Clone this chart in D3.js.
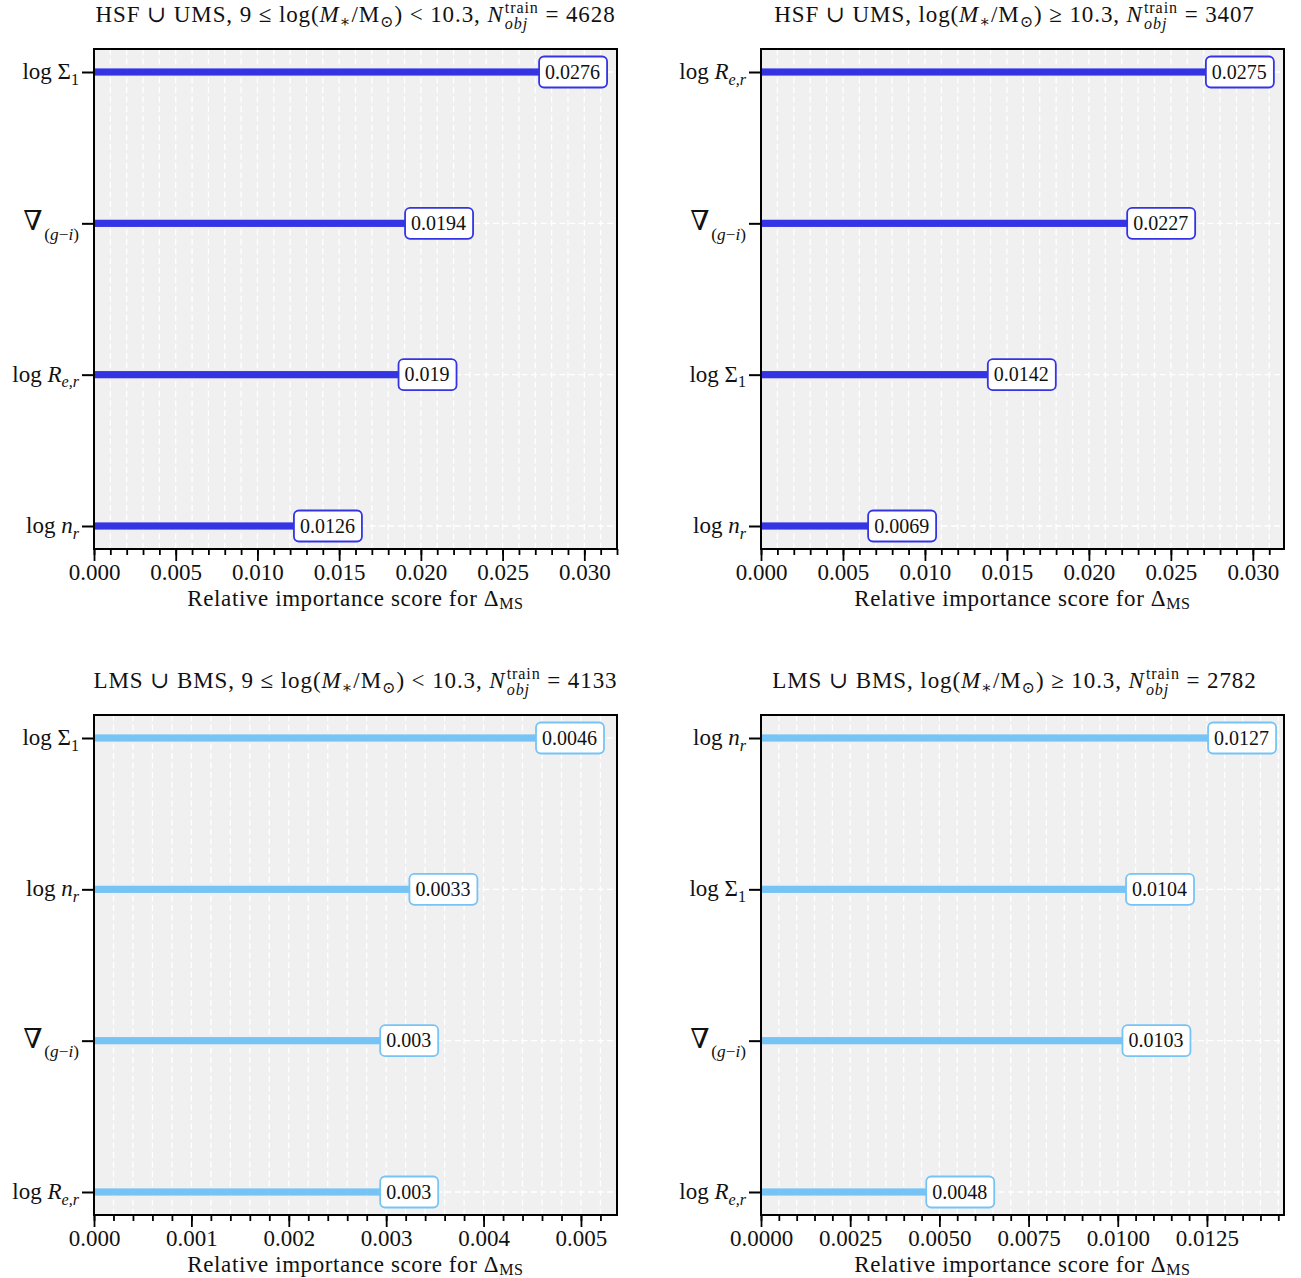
<!DOCTYPE html>
<html>
<head>
<meta charset="utf-8">
<script src="https://cdn.jsdelivr.net/npm/d3@7"></script>
<style>
  html, body { margin: 0; padding: 0; background: #ffffff; }
  svg text { font-family: "Liberation Serif", "DejaVu Serif", serif; fill: #111; white-space: pre; }
</style>
</head>
<body>
<svg id="chart" width="1301" height="1278"></svg>
<script>
// Feature importance scores for the four galaxy sub-samples
const hsfLowFeatures = ["logSigma1", "gradGI", "logRe", "logN"];
const hsfLowScores = [0.0276, 0.0194, 0.019, 0.0126];

const hsfHighFeatures = ["logRe", "gradGI", "logSigma1", "logN"];
const hsfHighScores = [0.0275, 0.0227, 0.0142, 0.0069];

const lmsLowFeatures = ["logSigma1", "logN", "gradGI", "logRe"];
const lmsLowScores = [0.0046, 0.0033, 0.003, 0.003];

const lmsHighFeatures = ["logN", "logSigma1", "gradGI", "logRe"];
const lmsHighScores = [0.0127, 0.0104, 0.0103, 0.0048];

// Training-set sizes quoted in the panel titles
const trainCounts = [4628, 3407, 4133, 2782];

// Axis tick labels
const ticksHsf = [0, 0.005, 0.010, 0.015, 0.020, 0.025, 0.030];
const ticksLmsLow = [0, 0.001, 0.002, 0.003, 0.004, 0.005];
const ticksLmsHigh = [0, 0.0025, 0.0050, 0.0075, 0.0100, 0.0125];

const colorHsf = "#3434e4";
const colorLms = "#76c4f6";

// Math-style labels, built from roman / italic / sub / superscript pieces
const featureLabels = {
  logSigma1: [{s: "log "}, {s: "Σ"}, {s: "1", sc: 0.7, dy: 0.24}],
  gradGI: [{s: "∇", sc: 1.2}, {s: "(", sc: 0.75, dy: 0.4, dx: 0.08}, {s: "g", it: true, sc: 0.75, dy: 0.4},
           {s: "−", sc: 0.75, dy: 0.4}, {s: "i", it: true, sc: 0.75, dy: 0.4}, {s: ")", sc: 0.75, dy: 0.4}],
  logRe: [{s: "log "}, {s: "R", it: true}, {s: "e,r", it: true, sc: 0.7, dy: 0.24}],
  logN: [{s: "log "}, {s: "n", it: true}, {s: "r", it: true, sc: 0.7, dy: 0.24}]
};

function titleSegments(sample, low, n) {
  const mass = low
    ? [{s: sample + ", 9 ≤ log("}, {s: "M", it: true}, {s: "∗", sc: 0.7, dy: 0.2},
       {s: "/M"}, {s: "⊙", sc: 0.7, dy: 0.2}, {s: ") < 10.3, "}]
    : [{s: sample + ", log("}, {s: "M", it: true}, {s: "∗", sc: 0.7, dy: 0.2},
       {s: "/M"}, {s: "⊙", sc: 0.7, dy: 0.2}, {s: ") ≥ 10.3, "}];
  return mass.concat([
    {s: "N", it: true},
    {s: "train", sc: 0.7, dy: -0.4, dx: 0.05},
    {s: "obj", it: true, sc: 0.7, dy: 0.3, stack: true},
    {s: " = " + n}
  ]);
}

const xLabelSegments = [{s: "Relative importance score for Δ"}, {s: "MS", sc: 0.7, dy: 0.12}];

// Lay out a sequence of text pieces and anchor the whole run at (x, y)
function mathLabel(parent, segs, x, y, anchor, size, spacing) {
  const g = parent.append("g");
  let cursor = 0, prevStart = 0;
  segs.forEach(seg => {
    const t = g.append("text")
      .attr("font-size", size * (seg.sc || 1))
      .attr("font-style", seg.it ? "italic" : "normal")
      .attr("letter-spacing", spacing || 0)
      .attr("y", (seg.dy || 0) * size)
      .text(seg.s);
    const w = t.node().getComputedTextLength();
    let start = (seg.stack ? prevStart : cursor) + (seg.dx || 0) * size;
    t.attr("x", start);
    cursor = seg.stack ? Math.max(cursor, start + w) : start + w;
    prevStart = start;
  });
  const shift = anchor === "end" ? -cursor : anchor === "middle" ? -cursor / 2 : 0;
  g.attr("transform", `translate(${x + shift},${y})`);
  return g;
}

const panels = [
  {features: hsfLowFeatures, scores: hsfLowScores, color: colorHsf, xMax: 0.0320,
   ticks: ticksHsf, minor: 0.001, fmt: ".3f", left: 94, top: 49,
   title: titleSegments("HSF ∪ UMS", true, trainCounts[0])},
  {features: hsfHighFeatures, scores: hsfHighScores, color: colorHsf, xMax: 0.0319,
   ticks: ticksHsf, minor: 0.001, fmt: ".3f", left: 761, top: 49,
   title: titleSegments("HSF ∪ UMS", false, trainCounts[1])},
  {features: lmsLowFeatures, scores: lmsLowScores, color: colorLms, xMax: 0.00537,
   ticks: ticksLmsLow, minor: 0.0002, fmt: ".3f", left: 94, top: 715,
   title: titleSegments("LMS ∪ BMS", true, trainCounts[2])},
  {features: lmsHighFeatures, scores: lmsHighScores, color: colorLms, xMax: 0.01466,
   ticks: ticksLmsHigh, minor: 0.0005, fmt: ".4f", left: 761, top: 715,
   title: titleSegments("LMS ∪ BMS", false, trainCounts[3])}
];

const plotW = 523, plotH = 500;
const svg = d3.select("#chart");

panels.forEach(p => {
  const g = svg.append("g").attr("transform", `translate(${p.left},${p.top})`);
  const x = d3.scaleLinear().domain([0, p.xMax]).range([0, plotW]);
  const y = d3.scalePoint().domain(p.features).range([0, plotH]).padding(0.152);
  const minorTicks = d3.range(0, Math.floor(p.xMax / p.minor + 1e-6) + 1).map(i => i * p.minor);

  // plot background
  g.append("rect").attr("width", plotW).attr("height", plotH).attr("fill", "#f0f0f0");

  // dashed grid: vertical at every minor tick, horizontal at every feature
  g.append("g").selectAll("line").data(minorTicks.filter(v => v > 0)).join("line")
    .attr("x1", d => x(d)).attr("x2", d => x(d))
    .attr("y1", 0).attr("y2", plotH)
    .attr("stroke", "#ffffff").attr("stroke-width", 1.3).attr("stroke-dasharray", "6,3.5");
  g.append("g").selectAll("line").data(p.features).join("line")
    .attr("x1", 0).attr("x2", plotW)
    .attr("y1", d => y(d)).attr("y2", d => y(d))
    .attr("stroke", "#ffffff").attr("stroke-width", 1.3).attr("stroke-dasharray", "6,3.5");

  const rows = p.features.map((f, i) => ({f, v: p.scores[i]}));

  // importance bars
  g.append("g").selectAll("rect").data(rows).join("rect")
    .attr("x", x(0)).attr("y", d => y(d.f) - 3.6)
    .attr("width", d => x(d.v) - x(0)).attr("height", 7.2)
    .attr("fill", p.color);

  // value tags at the bar ends
  const tags = g.append("g").selectAll("g").data(rows).join("g")
    .attr("transform", d => `translate(${x(d.v)},${y(d.f)})`);
  tags.each(function(d) {
    const tg = d3.select(this);
    const box = tg.append("rect");
    const t = tg.append("text").attr("font-size", 20).attr("x", 0).attr("y", 6.8).text(String(d.v));
    const w = t.node().getComputedTextLength();
    box.attr("x", -6).attr("y", -15.5).attr("width", w + 13).attr("height", 31)
      .attr("rx", 5).attr("ry", 5)
      .attr("fill", "#ffffff").attr("stroke", p.color).attr("stroke-width", 1.8);
  });

  // frame
  g.append("rect").attr("width", plotW).attr("height", plotH)
    .attr("fill", "none").attr("stroke", "#000").attr("stroke-width", 2);

  // x axis: minor then major ticks
  const minorAxis = d3.axisBottom(x).tickValues(minorTicks).tickSize(6).tickFormat("");
  const majorAxis = d3.axisBottom(x).tickValues(p.ticks).tickSize(12).tickPadding(3)
    .tickFormat(d3.format(p.fmt));
  const ax1 = g.append("g").attr("transform", `translate(0,${plotH})`).call(minorAxis);
  const ax2 = g.append("g").attr("transform", `translate(0,${plotH})`).call(majorAxis);
  [ax1, ax2].forEach(a => {
    a.select(".domain").remove();
    a.selectAll(".tick line").attr("stroke", "#000").attr("stroke-width", 1.8);
  });
  ax2.selectAll(".tick text").attr("font-size", 23).attr("font-family", "Liberation Serif").attr("fill", "#111");

  // y axis ticks with math labels
  const yAxis = d3.axisLeft(y).tickSize(12).tickFormat("");
  const ay = g.append("g").call(yAxis);
  ay.select(".domain").remove();
  ay.selectAll(".tick line").attr("stroke", "#000").attr("stroke-width", 2);
  p.features.forEach(f => {
    mathLabel(g, featureLabels[f], -15, y(f) + 7, "end", 23);
  });

  // axis title and panel title
  mathLabel(g, xLabelSegments, plotW / 2, plotH + 57, "middle", 23, 0.6);
  mathLabel(g, p.title, plotW / 2 + (p.left > 400 ? -8 : 0), -27, "middle", 23, 0.9);
});
</script>
</body>
</html>
